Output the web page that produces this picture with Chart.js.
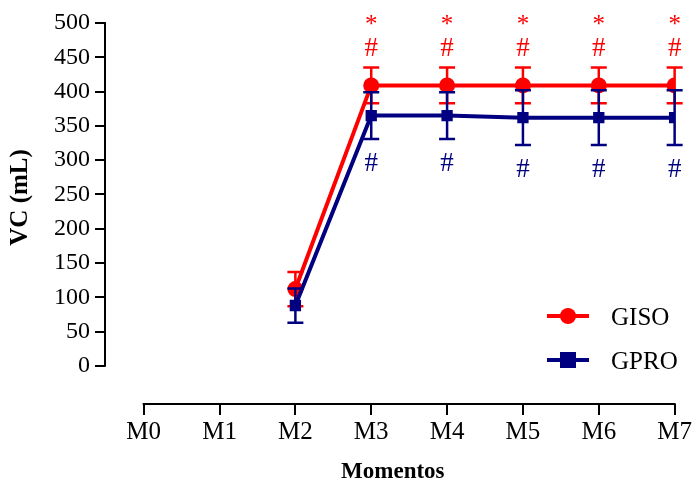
<!DOCTYPE html>
<html>
<head>
<meta charset="utf-8">
<script src="https://cdn.jsdelivr.net/npm/chart.js@4"></script>
<style>
  html, body { margin: 0; padding: 0; background: #fff; }
  #wrap { width: 694px; height: 483px; }
</style>
</head>
<body>
<div id="wrap"><canvas id="c" width="694" height="483"></canvas></div>
<script>
// Time points and tick values
const categories = ['M0', 'M1', 'M2', 'M3', 'M4', 'M5', 'M6', 'M7'];
const yTicks = [0, 50, 100, 150, 200, 250, 300, 350, 400, 450, 500];

// Mean VC (mL) and error per group
const gisoMean = [null, null, 112, 409, 409, 409, 409, 409];
const gisoErr  = [null, null, 25, 26, 26, 26, 26, 26];
const gproMean = [null, null, 88, 365, 365, 362, 362, 362];
const gproErr  = [null, null, 25, 34, 34, 40, 40, 40];

// Significance marks
const gisoStar = [false, false, false, true, true, true, true, true];
const gisoHash = [false, false, false, true, true, true, true, true];
const gproHash = [false, false, false, true, true, true, true, true];

const RED = '#ff0000';
const BLUE = '#000080';
const FONT = '"Liberation Serif", "Times New Roman", serif';

const toPoints = (arr) => arr.map((v, i) => ({ x: i, y: v }));

// Error bars are drawn right before each dataset so later series sit on top
const errorBars = {
  id: 'errorBars',
  beforeDatasetDraw(chart, args) {
    const ds = chart.data.datasets[args.index];
    const errs = ds.errors;
    if (!errs) return;
    const { ctx, scales: { x, y } } = chart;
    ctx.save();
    ctx.strokeStyle = ds.borderColor;
    ctx.lineWidth = 2.5;
    const cap = 8;
    ds.data.forEach((p, i) => {
      if (p.y == null || errs[i] == null) return;
      const px = x.getPixelForValue(p.x);
      const top = y.getPixelForValue(p.y + errs[i]);
      const bot = y.getPixelForValue(p.y - errs[i]);
      ctx.beginPath();
      ctx.moveTo(px, top); ctx.lineTo(px, bot);
      ctx.moveTo(px - cap, top); ctx.lineTo(px + cap, top);
      ctx.moveTo(px - cap, bot); ctx.lineTo(px + cap, bot);
      ctx.stroke();
    });
    ctx.restore();
  }
};

// Axis lines, axis titles, significance marks and the legend box
const decorations = {
  id: 'decorations',
  afterDraw(chart) {
    const { ctx, scales: { x, y } } = chart;
    const area = chart.chartArea;
    ctx.save();
    ctx.strokeStyle = '#000';
    ctx.lineWidth = 2;
    // y axis line, 0..500
    const ax = area.left;
    const y0 = y.getPixelForValue(yTicks[0]);
    const y1 = y.getPixelForValue(yTicks[yTicks.length - 1]);
    ctx.beginPath();
    ctx.moveTo(ax, y0 + 1);
    ctx.lineTo(ax, y1 - 1);
    ctx.stroke();
    // x axis line, M0..M7
    const by = area.bottom;
    ctx.beginPath();
    ctx.moveTo(x.getPixelForValue(0) - 1, by);
    ctx.lineTo(x.getPixelForValue(categories.length - 1) + 1, by);
    ctx.stroke();

    // axis titles
    ctx.fillStyle = '#000';
    ctx.textAlign = 'center';
    ctx.textBaseline = 'middle';
    ctx.save();
    ctx.translate(21, (y0 + y1) / 2 + 3);
    ctx.rotate(-Math.PI / 2);
    ctx.font = 'bold 25px ' + FONT;
    ctx.fillText('VC (mL)', 0, 0);
    ctx.restore();
    ctx.font = 'bold 23px ' + FONT;
    ctx.fillText('Momentos', (area.left + area.right) / 2 + 3, 472);

    // significance marks
    categories.forEach((_, i) => {
      const px = x.getPixelForValue(i);
      if (gisoMean[i] != null) {
        const top = y.getPixelForValue(gisoMean[i] + gisoErr[i]);
        ctx.fillStyle = RED;
        ctx.font = '27px ' + FONT;
        if (gisoHash[i]) ctx.fillText('#', px, top - 19);
        ctx.font = '25px ' + FONT;
        if (gisoStar[i]) ctx.fillText('*', px, top - 42);
      }
      if (gproMean[i] != null && gproHash[i]) {
        const bot = y.getPixelForValue(gproMean[i] - gproErr[i]);
        ctx.fillStyle = BLUE;
        ctx.font = '27px ' + FONT;
        ctx.fillText('#', px, bot + 25);
      }
    });

    // legend
    const items = [
      { ds: chart.data.datasets[0], y: 316 },
      { ds: chart.data.datasets[1], y: 360 }
    ];
    items.forEach(({ ds, y: ly }) => {
      ctx.strokeStyle = ds.borderColor;
      ctx.fillStyle = ds.backgroundColor;
      ctx.lineWidth = 4;
      ctx.beginPath();
      ctx.moveTo(547, ly); ctx.lineTo(589, ly);
      ctx.stroke();
      if (ds.pointStyle === 'circle') {
        ctx.beginPath();
        ctx.arc(568, ly, 8, 0, Math.PI * 2);
        ctx.fill();
      } else {
        ctx.fillRect(560, ly - 8, 16, 16);
      }
      ctx.fillStyle = '#000';
      ctx.font = '25px ' + FONT;
      ctx.textAlign = 'left';
      ctx.fillText(ds.label, 611, ly + 2);
    });
    ctx.restore();
  }
};

new Chart(document.getElementById('c'), {
  type: 'line',
  data: {
    datasets: [
      {
        label: 'GISO',
        data: toPoints(gisoMean),
        errors: gisoErr,
        borderColor: RED,
        backgroundColor: RED,
        borderWidth: 4,
        pointStyle: 'circle',
        pointRadius: 8,
        pointBorderWidth: 0,
        order: 2
      },
      {
        label: 'GPRO',
        data: toPoints(gproMean),
        errors: gproErr,
        borderColor: BLUE,
        backgroundColor: BLUE,
        borderWidth: 4,
        pointStyle: 'rect',
        pointRadius: 8,
        pointBorderWidth: 0,
        order: 1
      }
    ]
  },
  options: {
    responsive: false,
    devicePixelRatio: 1,
    animation: false,
    layout: { padding: { top: 23, right: 16, left: 0, bottom: 0 } },
    plugins: { legend: { display: false }, tooltip: { enabled: false } },
    scales: {
      x: {
        type: 'linear',
        min: -0.51,
        max: categories.length - 1,
        afterBuildTicks(scale) { scale.ticks = categories.map((_, i) => ({ value: i })); },
        afterFit(scale) { scale.height = 79; },
        grid: { drawOnChartArea: false, drawTicks: true, tickLength: 11, color: '#000', lineWidth: 2 },
        border: { display: false },
        ticks: {
          color: '#000',
          font: { family: FONT, size: 25 },
          padding: 2,
          maxRotation: 0,
          callback: (v) => categories[v]
        },
        title: { display: false }
      },
      y: {
        min: -55.6,
        max: 500,
        afterBuildTicks(scale) { scale.ticks = yTicks.map(v => ({ value: v })); },
        afterFit(scale) { scale.width = 105; },
        grid: { drawOnChartArea: false, drawTicks: true, tickLength: 10, color: '#000', lineWidth: 2 },
        border: { display: false },
        ticks: {
          color: '#000',
          font: { family: FONT, size: 24 },
          padding: 5
        },
        title: { display: false }
      }
    }
  },
  plugins: [errorBars, decorations]
});
</script>
</body>
</html>
